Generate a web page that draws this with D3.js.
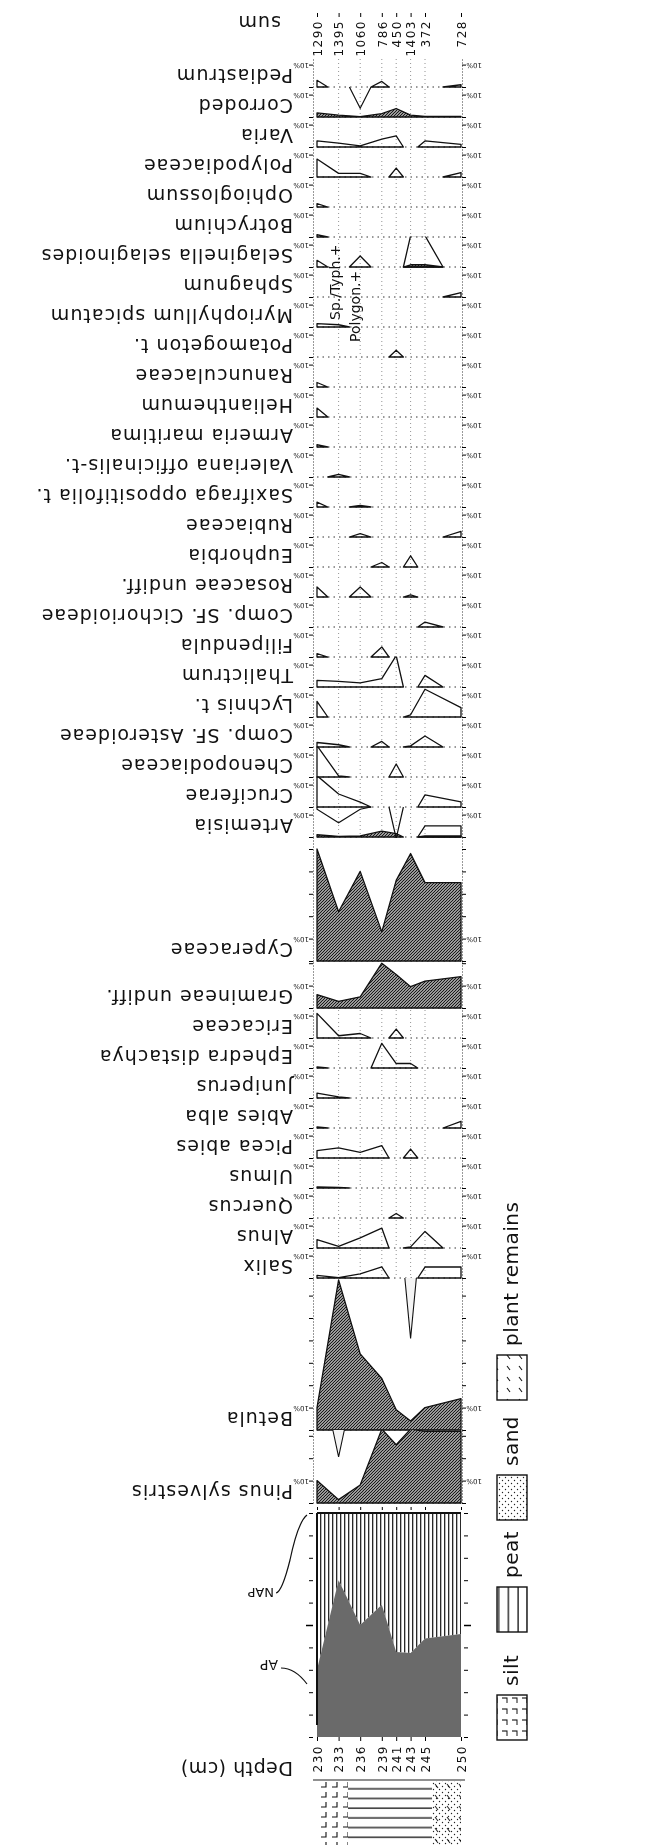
<!DOCTYPE html>
<html>
<head>
<meta charset="utf-8">
<script src="https://cdn.jsdelivr.net/npm/d3@7"></script>
<style>
  html, body { margin: 0; padding: 0; background: #fff; }
  svg { display: block; }
  text { font-family: "DejaVu Sans", sans-serif; fill: #111; }
</style>
</head>
<body>
<svg id="chart" width="647" height="1845"></svg>
<script>
// sample depths (cm) and pollen sums
const depths = [230, 233, 236, 239, 241, 243, 245, 250];
const sums = [1290, 1395, 1060, 786, 450, 1403, 372, 728];

// percentages per sample, in depth order
const pediastrum = [3, 0, 0, 2.5, 0, 0, 0, 1];
const corroded = [1.8, 0.8, 0.2, 1.5, 3.8, 0.8, 0.3, 0.3];
const corrodedHang = [0, 0, 9.5, 0, 0, 0, 0, 0];
const varia = [2.7, 1.7, 0.5, 3.5, 5, 0, 2.7, 1.2];
const polypodiaceae = [8, 1.6, 1.6, 0, 4, 0, 0, 2];
const ophioglossum = [1.5, 0, 0, 0, 0, 0, 0, 0];
const botrychium = [1, 0, 0, 0, 0, 0, 0, 0];
const selaginella = [3, 0, 4.9, 0, 0, 14, 14, 0];
const selaginellaFill = [0, 0, 0, 0, 0, 1, 1, 0];
const sphagnum = [0, 0, 0, 0, 0, 0, 0, 2];
const myriophyllum = [1.5, 1, 0, 0, 0, 0, 0, 0];
const potamogeton = [0, 0, 0, 0, 3, 0, 0, 0];
const ranunculaceae = [2, 0, 0, 0, 0, 0, 0, 0];
const helianthemum = [4, 0, 0, 0, 0, 0, 0, 0];
const armeria = [1, 0, 0, 0, 0, 0, 0, 0];
const valeriana = [0, 1.2, 0, 0, 0, 0, 0, 0];
const saxifraga = [2.2, 0, 0.7, 0, 0, 0, 0, 0];
const rubiaceae = [0, 0, 1.5, 0, 0, 0, 0, 2.5];
const euphorbia = [0, 0, 0, 2, 0, 5, 0, 0];
const rosaceae = [4.5, 0, 4.5, 0, 0, 1, 0, 0];
const cichorioideae = [0, 0, 0, 0, 0, 0, 2.2, 0];
const filipendula = [1.5, 0, 0, 4.5, 0, 0, 0, 0];
const thalictrum = [3, 2.5, 1.8, 3.7, 14, 0, 5.2, 0];
const lychnis = [7, 0, 0, 0, 0, 1, 12.4, 4.2];
const asteroideae = [2, 1, 0, 2.5, 0, 0.5, 4.9, 0];
const chenopodiaceae = [14, 0.5, 0, 0, 5.8, 0, 0, 0];
const cruciferae = [14, 5.8, 2.2, 0, 0, 0, 5.4, 2.3];
const artemisia = [1, 0.3, 0.5, 2.6, 1.5, 0, 0.5, 0.5];
const artemisiaOutline = [0, 0, 0, 0, 0, 0, 5, 5];
const artemisiaHang = [1, 7, 1, 0, 14, 0, 0, 0];
const cyperaceae = [50, 22, 40, 13, 36, 48, 35, 35];
const gramineae = [6, 3, 5, 20, 15, 9.5, 12, 14];
const ericaceae = [11, 1, 2, 0, 4, 0, 0, 0];
const ephedra = [0.5, 0, 0, 11, 2, 2, 0, 0];
const juniperus = [2.2, 0.5, 0, 0, 0, 0, 0, 0];
const abies = [0.5, 0, 0, 0, 0, 0, 0, 3];
const picea = [3.3, 4.5, 2.5, 5.5, 0, 4, 0, 0];
const ulmus = [0.5, 0.3, 0, 0, 0, 0, 0, 0];
const quercus = [0, 0, 0, 0, 2, 0, 0, 0];
const alnus = [3.7, 0.7, 4.5, 8.9, 0, 0.5, 7.4, 0];
const salix = [1.2, 0.2, 1.8, 5, 0, 0, 4.9, 4.9];
const betula = [10, 67, 34, 23, 9, 4, 10, 14];
const betulaSpike = [0, 0, 0, 0, 0, 27, 0, 0];
const pinus = [10, 1.5, 8, 33, 26, 33, 32, 32];
const pinusSpike = [0, 12, 0, 0, 0, 0, 0, 0];
const ap = [30, 70, 50, 59, 38, 37.5, 44, 46];

// lithology column
const lithoFrom = [230, 234.3, 246];
const lithoTo = [234.3, 246, 250];
const lithoType = ["silt", "peat", "sand"];
const legendItems = ["plant remains", "sand", "peat", "silt"];

const taxa = [
  { name: "Pediastrum", vals: pediastrum },
  { name: "Corroded", fill: corroded, hang: corrodedHang },
  { name: "Varia", vals: varia },
  { name: "Polypodiaceae", vals: polypodiaceae },
  { name: "Ophioglossum", vals: ophioglossum },
  { name: "Botrychium", vals: botrychium },
  { name: "Selaginella selaginoides", vals: selaginella, fill: selaginellaFill },
  { name: "Sphagnum", vals: sphagnum },
  { name: "Myriophyllum spicatum", vals: myriophyllum },
  { name: "Potamogeton t.", vals: potamogeton },
  { name: "Ranunculaceae", vals: ranunculaceae },
  { name: "Helianthemum", vals: helianthemum },
  { name: "Armeria maritima", vals: armeria },
  { name: "Valeriana officinalis-t.", vals: valeriana },
  { name: "Saxifraga oppositifolia t.", vals: saxifraga },
  { name: "Rubiaceae", vals: rubiaceae },
  { name: "Euphorbia", vals: euphorbia },
  { name: "Rosaceae undiff.", vals: rosaceae },
  { name: "Comp. SF. Cichorioideae", vals: cichorioideae },
  { name: "Filipendula", vals: filipendula },
  { name: "Thalictrum", vals: thalictrum },
  { name: "Lychnis t.", vals: lychnis },
  { name: "Comp. SF. Asteroideae", vals: asteroideae },
  { name: "Chenopodiaceae", vals: chenopodiaceae },
  { name: "Cruciferae", vals: cruciferae },
  { name: "Artemisia", vals: artemisiaOutline, fill: artemisia, hang: artemisiaHang },
  { name: "Cyperaceae", fill: cyperaceae },
  { name: "Gramineae undiff.", fill: gramineae },
  { name: "Ericaceae", vals: ericaceae },
  { name: "Ephedra distachya", vals: ephedra },
  { name: "Juniperus", vals: juniperus },
  { name: "Abies alba", vals: abies },
  { name: "Picea abies", vals: picea },
  { name: "Ulmus", vals: ulmus },
  { name: "Quercus", vals: quercus },
  { name: "Alnus", vals: alnus },
  { name: "Salix", vals: salix },
  { name: "Betula", fill: betula, spike: betulaSpike },
  { name: "Pinus sylvestris", fill: pinus, spike: pinusSpike }
];

// layout
const plotL = 317, plotR = 461;
const K = 2.24;               // px per percent
const bigBands = { "Cyperaceae": 124, "Gramineae undiff.": 47, "Betula": 152, "Pinus sylvestris": 73 };
const x = d3.scaleLinear().domain([230, 250]).range([plotL, plotR]);

const svg = d3.select("#chart");
const defs = svg.append("defs");

function pattern(id, w, h, draw, transform) {
  const p = defs.append("pattern").attr("id", id)
    .attr("patternUnits", "userSpaceOnUse").attr("width", w).attr("height", h);
  if (transform) p.attr("patternTransform", transform);
  p.append("rect").attr("width", w).attr("height", h).attr("fill", "#fff");
  draw(p);
}
pattern("hatch", 3, 3, p => p.append("path")
  .attr("d", "M-1,1 l2,-2 M0,3 l3,-3 M2,4 l2,-2")
  .attr("stroke", "#1a1a1a").attr("stroke-width", 1.3));
pattern("nap", 4, 10, p => p.append("line")
  .attr("x1", 0.7).attr("x2", 0.7).attr("y1", 0).attr("y2", 10)
  .attr("stroke", "#111").attr("stroke-width", 1.2));
pattern("silt", 11, 10, p => p.append("path").attr("d", "M7,2 V7 H2")
  .attr("fill", "none").attr("stroke", "#111").attr("stroke-width", 1.1));
pattern("siltL", 11, 10, p => p.append("path").attr("d", "M7,2 V7 H2")
  .attr("fill", "none").attr("stroke", "#111").attr("stroke-width", 1.1), "rotate(-90)");
pattern("peat", 20, 9.7, p => p.append("line")
  .attr("x1", 0).attr("x2", 20).attr("y1", 4).attr("y2", 4)
  .attr("stroke", "#111").attr("stroke-width", 1.3));
pattern("peatL", 9.7, 20, p => p.append("line")
  .attr("x1", 4).attr("x2", 4).attr("y1", 0).attr("y2", 20)
  .attr("stroke", "#111").attr("stroke-width", 1.3));
pattern("sand", 6, 6, p => {
  p.append("circle").attr("cx", 1.5).attr("cy", 1.5).attr("r", 0.7).attr("fill", "#222");
  p.append("circle").attr("cx", 4.5).attr("cy", 4.5).attr("r", 0.7).attr("fill", "#222");
});
pattern("plant", 12, 11, p => p.append("path").attr("d", "M3,2 l3,4")
  .attr("stroke", "#111").attr("stroke-width", 1.1));

// band geometry
let cursor = 57;
taxa.forEach(t => {
  const h = bigBands[t.name] || 30;
  t.big = !!bigBands[t.name];
  t.top = cursor; t.base = cursor + h; cursor = t.base;
  t.y = d3.scaleLinear().domain([0, h / K]).range([t.base, t.top]);
  t.yh = d3.scaleLinear().domain([0, h / K]).range([t.top, t.base]);
});

// contiguous non-zero runs, closed to zero halfway to the neighbour sample
function runs(vals) {
  const out = [];
  let i = 0;
  while (i < vals.length) {
    if (!(vals[i] > 0)) { i++; continue; }
    let j = i;
    while (j + 1 < vals.length && vals[j + 1] > 0) j++;
    const pts = [[i > 0 ? (depths[i - 1] + depths[i]) / 2 : depths[i], 0]];
    for (let m = i; m <= j; m++) pts.push([depths[m], vals[m]]);
    pts.push([j < vals.length - 1 ? (depths[j] + depths[j + 1]) / 2 : depths[j], 0]);
    out.push(pts);
    i = j + 1;
  }
  return out;
}

const plot = svg.append("g");
taxa.forEach((t, ti) => {
  const clipId = "clip" + ti;
  defs.append("clipPath").attr("id", clipId).append("rect")
    .attr("x", plotL - 1).attr("y", t.top - 0.5)
    .attr("width", plotR - plotL + 2).attr("height", t.base - t.top + 1.5);
  const g = plot.append("g");

  if (!t.big) {
    g.selectAll(".samp").data(depths.slice(1, -1)).join("line")
      .attr("x1", d => x(d)).attr("x2", d => x(d))
      .attr("y1", t.top + 2).attr("y2", t.base)
      .attr("stroke", "#777").attr("stroke-width", 0.8).attr("stroke-dasharray", "1,3");
  }
  g.append("line").attr("x1", plotL).attr("x2", plotR).attr("y1", t.base).attr("y2", t.base)
    .attr("stroke", "#333").attr("stroke-width", 1).attr("stroke-dasharray", "1.5,4");

  const cg = g.append("g").attr("clip-path", `url(#${clipId})`);
  const line = d3.line().x(d => x(d[0])).y(d => t.y(d[1]));
  const hline = d3.line().x(d => x(d[0])).y(d => t.yh(d[1]));

  if (t.fill) {
    cg.selectAll(".f").data(runs(t.fill)).join("path")
      .attr("d", d => line(d) + "Z")
      .attr("fill", "url(#hatch)").attr("stroke", "#111").attr("stroke-width", 1.3)
      .attr("stroke-linejoin", "round");
  }
  if (t.vals) {
    cg.selectAll(".v").data(runs(t.vals)).join("path")
      .attr("d", d => line(d) + "Z")
      .attr("fill", "none").attr("stroke", "#111").attr("stroke-width", 1.3)
      .attr("stroke-linejoin", "round");
  }
  if (t.hang) {
    cg.selectAll(".h").data(runs(t.hang)).join("path")
      .attr("d", d => hline(d))
      .attr("fill", "none").attr("stroke", "#111").attr("stroke-width", 1.2);
  }
  if (t.spike) {
    const sp = depths.map((d, i) => [d, t.spike[i]]).filter(d => d[1] > 0)
      .map(([d, v]) => [[d - 0.8, 0], [d, v], [d + 0.8, 0]]);
    cg.selectAll(".s").data(sp).join("path")
      .attr("d", d => hline(d))
      .attr("fill", "#f4f4f4").attr("stroke", "#111").attr("stroke-width", 1.1);
  }

  // percentage ticks on both sides
  const tv = d3.range(0, t.y.domain()[1] + 0.01, 10);
  const gl = g.append("g").attr("transform", `translate(${plotL - 4},0)`)
    .call(d3.axisLeft(t.y).tickValues(tv).tickSize(4).tickSizeOuter(0).tickFormat(""));
  gl.select(".domain").attr("stroke-dasharray", "1,2").attr("stroke", "#333");
  const gr = g.append("g").attr("transform", `translate(${plotR + 1},0)`)
    .call(d3.axisRight(t.y).tickValues(tv).tickSize(4).tickSizeOuter(0).tickFormat(""));
  gr.select(".domain").attr("stroke-dasharray", "1,2").attr("stroke", "#333");

  // small 10% labels (upside down)
  [plotL - 8, plotR + 21].forEach(px => {
    g.append("text").attr("transform", `translate(${px},${t.y(10) - 1.5}) rotate(180)`)
      .attr("font-size", 7).text("10%");
  });

  // taxon name (upside down)
  g.append("text").attr("transform", `translate(293,${t.y(10) + 4}) rotate(180)`)
    .attr("font-size", 19).attr("letter-spacing", 1).text(t.name);
});

// AP / NAP block
const apTop = 1513, apBase = 1737;
const yAP = d3.scaleLinear().domain([0, 100]).range([apBase, apTop]);
const apG = svg.append("g");
apG.append("path").datum(ap)
  .attr("d", d3.area().x((d, i) => x(depths[i])).y0(yAP(100)).y1(d => yAP(d)))
  .attr("fill", "url(#nap)");
apG.append("path").datum(ap)
  .attr("d", d3.area().x((d, i) => x(depths[i])).y0(yAP(0)).y1(d => yAP(d)))
  .attr("fill", "#6a6a6a");
apG.append("line").attr("x1", plotL).attr("x2", plotR).attr("y1", apTop).attr("y2", apTop)
  .attr("stroke", "#111").attr("stroke-width", 2);
apG.append("line").attr("x1", plotL).attr("x2", plotL).attr("y1", apTop).attr("y2", apBase - 12)
  .attr("stroke", "#111").attr("stroke-width", 2);
const apL = apG.append("g").attr("transform", `translate(${plotL - 4},0)`)
  .call(d3.axisLeft(yAP).tickValues(d3.range(0, 101, 10)).tickSize(4).tickSizeOuter(0).tickFormat(""));
apL.select(".domain").remove();
apL.selectAll(".tick line").filter(d => d === 50).attr("x2", -7).attr("stroke-width", 1.5);
const apR = apG.append("g").attr("transform", `translate(${plotR + 3},0)`)
  .call(d3.axisRight(yAP).tickValues(d3.range(0, 101, 10)).tickSize(4).tickSizeOuter(0).tickFormat(""));
apR.select(".domain").remove();
apR.selectAll(".tick line").filter(d => d === 50).attr("x2", 7).attr("stroke-width", 1.5);
// small sample ticks between Pinus and AP block
apG.append("g").attr("transform", "translate(0,1510)")
  .call(d3.axisTop(x).tickValues(depths).tickSize(3).tickFormat(""))
  .select(".domain").remove();

apG.append("text").attr("transform", "translate(278,1660) rotate(180)")
  .attr("font-size", 14).text("AP");
apG.append("path").attr("d", "M281,1668 Q295,1668 307,1684")
  .attr("fill", "none").attr("stroke", "#111").attr("stroke-width", 1.2);
apG.append("text").attr("transform", "translate(274,1588) rotate(180)")
  .attr("font-size", 13).text("NAP");
apG.append("path").attr("d", "M276,1593 Q282,1592 290,1560 Q298,1522 307,1515")
  .attr("fill", "none").attr("stroke", "#111").attr("stroke-width", 1.2);

// pollen sum axis at top
const gs = svg.append("g").attr("transform", "translate(0,17)")
  .call(d3.axisTop(x).tickValues(depths).tickSize(4).tickSizeOuter(0).tickFormat((d, i) => sums[i]));
gs.select(".domain").remove();
gs.selectAll("text").attr("transform", "rotate(-90)").attr("x", -3).attr("y", 0)
  .attr("dy", "0.36em").attr("text-anchor", "end")
  .attr("font-size", 12).attr("letter-spacing", 1.5)
  .attr("font-family", "DejaVu Sans, sans-serif");
svg.append("text").attr("transform", "translate(281,16) rotate(180)")
  .attr("font-size", 19).attr("letter-spacing", 1).text("sum");

// depth axis at bottom
const gd = svg.append("g").attr("transform", `translate(0,${apBase})`)
  .call(d3.axisBottom(x).tickValues(depths).tickSize(4).tickSizeOuter(0).tickFormat(d => d));
gd.select(".domain").remove();
gd.selectAll("text").attr("transform", "rotate(-90)").attr("x", -8).attr("y", 0)
  .attr("dy", "0.36em").attr("text-anchor", "end")
  .attr("font-size", 12).attr("letter-spacing", 1.5)
  .attr("font-family", "DejaVu Sans, sans-serif");
svg.append("text").attr("transform", "translate(293,1762) rotate(180)")
  .attr("font-size", 19).attr("letter-spacing", 0.5).text("Depth (cm)");

// lithology column
const lithoTop = 1781;
const lg = svg.append("g");
lg.append("line").attr("x1", plotL - 4).attr("x2", plotR + 4).attr("y1", lithoTop - 1).attr("y2", lithoTop - 1)
  .attr("stroke", "#222").attr("stroke-width", 1.2);
lg.selectAll(".lu").data(lithoType).join("rect")
  .attr("x", (d, i) => x(lithoFrom[i])).attr("width", (d, i) => x(lithoTo[i]) - x(lithoFrom[i]))
  .attr("y", lithoTop).attr("height", 1845 - lithoTop)
  .attr("fill", d => `url(#${d})`);
lg.selectAll(".lp").data(lithoType.filter(d => d === "sand")).join("rect")
  .attr("x", x(lithoFrom[2]) + 2).attr("width", x(lithoTo[2]) - x(lithoFrom[2]) - 2)
  .attr("y", lithoTop).attr("height", 1845 - lithoTop)
  .attr("fill", "url(#plant)").attr("fill-opacity", 0.9).style("mix-blend-mode", "multiply");

// legend (rotated)
const legBox = { "plant remains": [1355, "plant"], "sand": [1475, "sand"], "peat": [1587, "peatL"], "silt": [1695, "siltL"] };
const leg = svg.append("g");
legendItems.forEach(name => {
  const [y0, pat] = legBox[name];
  leg.append("rect").attr("x", 497).attr("y", y0).attr("width", 30).attr("height", 45)
    .attr("fill", `url(#${pat})`).attr("stroke", "#111").attr("stroke-width", 1.4);
  leg.append("text").attr("transform", `translate(512,${y0 - 9}) rotate(-90)`)
    .attr("dy", "0.3em").attr("font-family", "DejaVu Sans Mono, monospace")
    .attr("font-size", 20).attr("letter-spacing", 0.5).text(name);
});

// presence notes
const notes = ["Sp./Typh.+", "Polygon.+"];
const noteDepth = [232.5, 235.3];
const noteBase = [320, 342];
svg.selectAll(".note").data(notes).join("text")
  .attr("transform", (d, i) => `translate(${x(noteDepth[i])},${noteBase[i]}) rotate(-90)`)
  .attr("dy", "0.35em").attr("font-size", 14).text(d => d);
</script>
</body>
</html>
